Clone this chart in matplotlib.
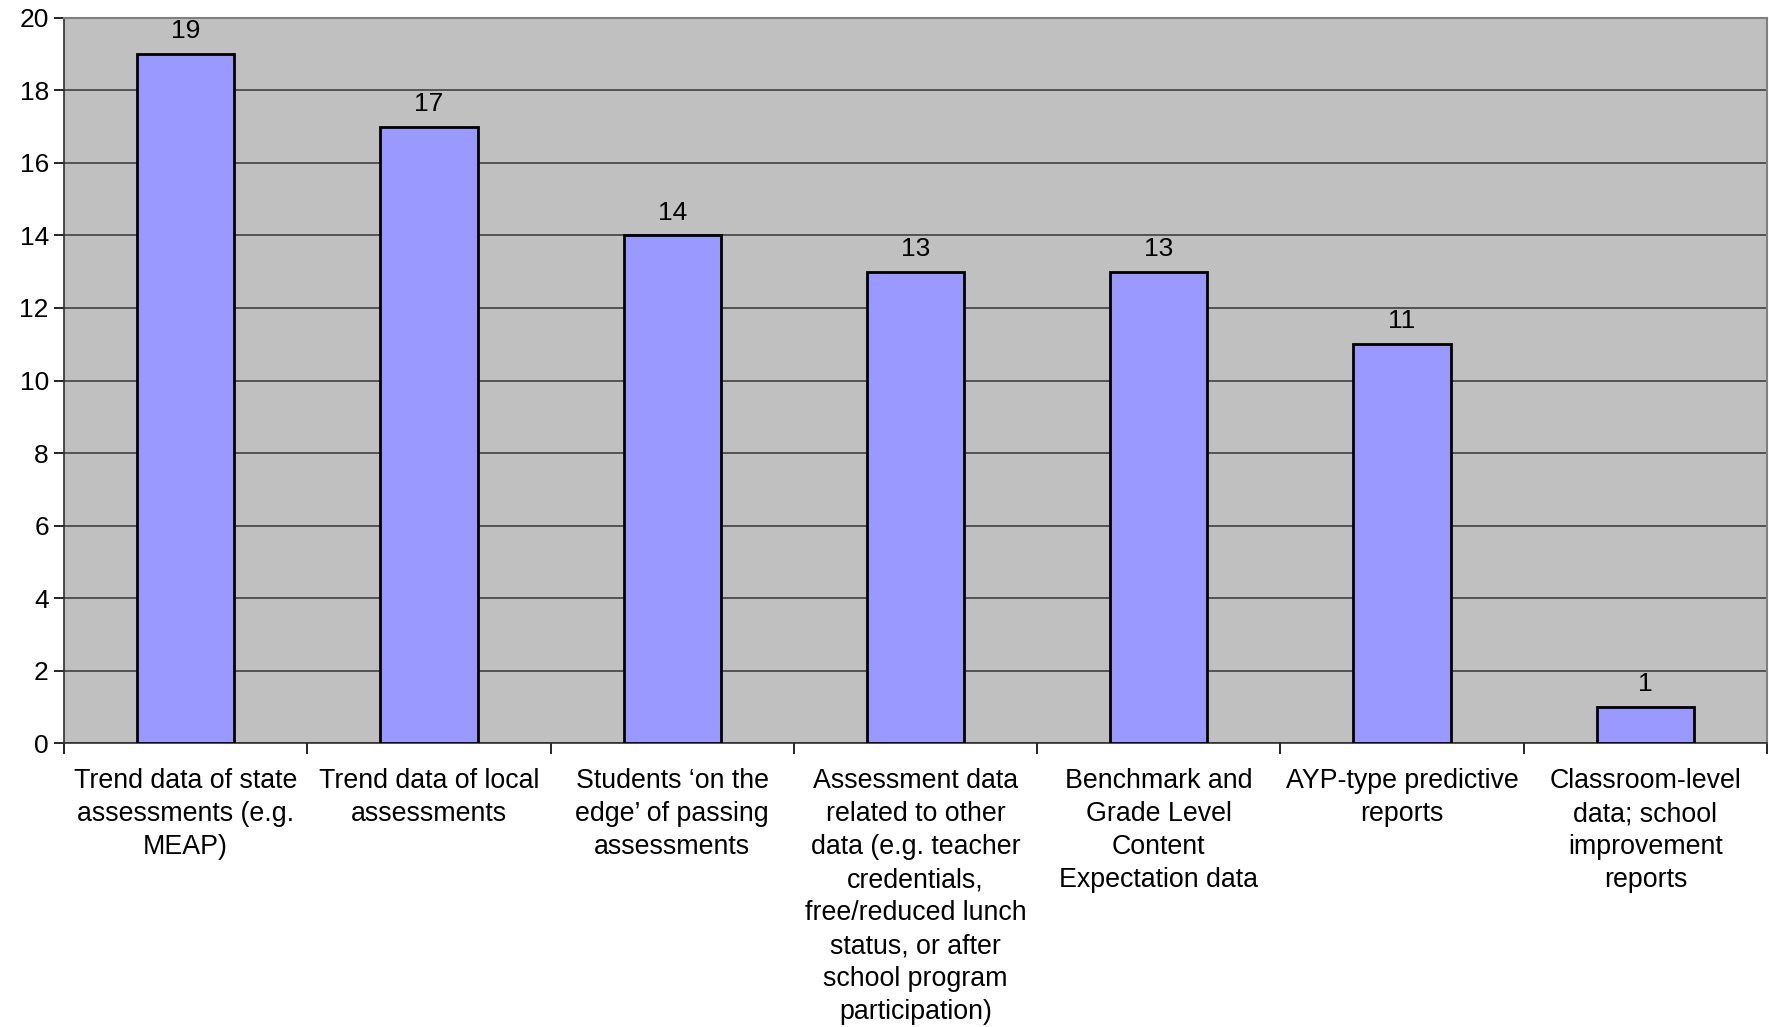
import matplotlib
matplotlib.use('Agg')
import matplotlib.pyplot as plt
import numpy as np

categories = ['Trend data of state\nassessments (e.g.\nMEAP)',
              'Trend data of local\nassessments',
              'Students \u2018on the\nedge\u2019 of passing\nassessments',
              'Assessment data\nrelated to other\ndata (e.g. teacher\ncredentials,\nfree/reduced lunch\nstatus, or after\nschool program\nparticipation)',
              'Benchmark and\nGrade Level\nContent\nExpectation data',
              'AYP-type predictive\nreports',
              'Classroom-level\ndata; school\nimprovement\nreports']
counts = [19, 17, 14, 13, 13, 11, 1]
y_ticks = [0, 2, 4, 6, 8, 10, 12, 14, 16, 18, 20]

plt.rcParams['font.family'] = ['Liberation Sans', 'DejaVu Sans']

fig = plt.figure(figsize=(17.69, 10.27), dpi=100)
ax = fig.add_axes([0.0362, 0.2765, 0.9627, 0.706])
ax.set_facecolor('#C0C0C0')

x = np.arange(len(counts))
bars = ax.bar(x, counts, width=0.4, color='#9999FF', edgecolor='black', linewidth=2, zorder=3)
for xi, v in zip(x, counts):
    ax.text(xi, v + 0.3, str(v), ha='center', va='bottom', fontsize=19, zorder=4)

ax.set_xlim(-0.5, len(counts) - 0.5)
ax.set_ylim(0, 20)
ax.set_yticks(y_ticks)
ax.yaxis.grid(True, color='#404040', linewidth=1.2, zorder=1)
ax.tick_params(axis='y', labelsize=19, length=7, width=1.2, pad=4)

# category boundaries get the tick marks, labels sit at bar centres
ax.set_xticks(np.arange(len(counts) + 1) - 0.5, minor=True)
ax.set_xticks(x)
ax.set_xticklabels(categories, fontsize=19.3, linespacing=1.35)
ax.tick_params(axis='x', which='major', length=0, pad=18)
ax.tick_params(axis='x', which='minor', length=8, width=1.2, direction='out')

for side in ['top', 'right']:
    ax.spines[side].set_color('#808080')
    ax.spines[side].set_linewidth(1.5)
for side in ['left', 'bottom']:
    ax.spines[side].set_color('#303030')
    ax.spines[side].set_linewidth(1.2)

fig.savefig('out.png', dpi=100)
